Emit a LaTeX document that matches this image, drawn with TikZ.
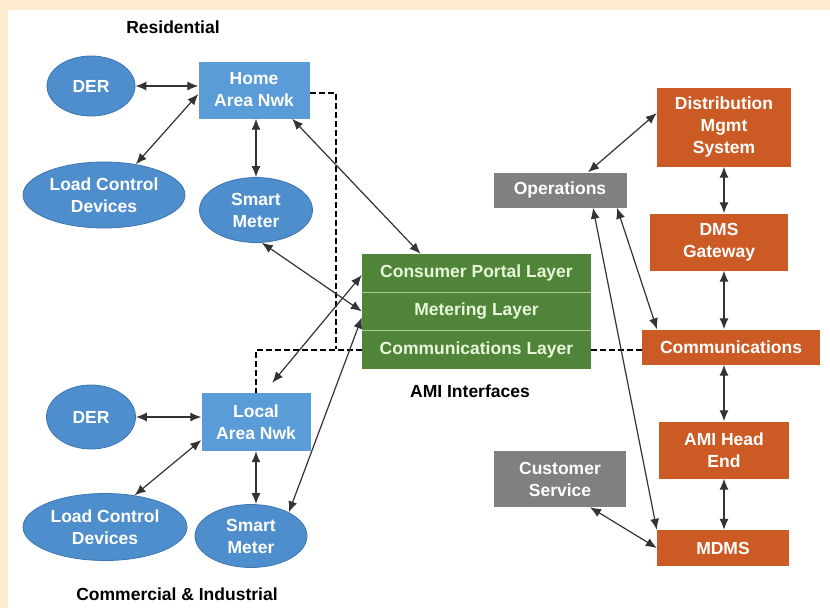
\documentclass[tikz,border=0pt]{standalone}
\usepackage{fontspec}
\setmainfont{Liberation Sans}
\usetikzlibrary{arrows.meta,shapes.geometric,positioning}
\definecolor{paper}{RGB}{253,236,208}
\definecolor{amiblue}{RGB}{78,142,204}
\definecolor{amibluedark}{RGB}{60,118,178}
\definecolor{amibox}{RGB}{90,156,216}
\definecolor{amigreen}{RGB}{80,132,56}
\definecolor{amigreenlight}{RGB}{170,205,150}
\definecolor{amitext}{RGB}{232,246,218}
\definecolor{amiorange}{RGB}{204,90,36}
\definecolor{amigrey}{RGB}{128,128,128}
\tikzset{>={Latex[width=9pt,length=11pt]}}
\tikzset{every node/.style={font=\fontsize{17.5}{22}\selectfont\bfseries, align=center}}
\tikzset{blob/.style={shape=ellipse, draw=amibluedark, line width=0.8pt,
    fill=amiblue, text=white, inner sep=0pt}}
\tikzset{netbox/.style={shape=rectangle, fill=amibox, text=white, inner sep=0pt}}
\tikzset{layer/.style={shape=rectangle, fill=amigreen, text=amitext, inner sep=0pt,
    minimum width=229pt, minimum height=38pt}}
\tikzset{utilbox/.style={shape=rectangle, fill=amiorange, text=white, inner sep=0pt}}
\tikzset{opsbox/.style={shape=rectangle, fill=amigrey, text=white, inner sep=0pt}}
\tikzset{link/.style={<->, draw=black!80, line width=1.2pt}}
\tikzset{bus/.style={draw=black, line width=1.8pt, dash pattern=on 6pt off 3pt}}

\begin{document}
\begin{tikzpicture}[x=1pt, y=-1pt]
    \useasboundingbox (0,0) rectangle (830,608);
    \fill[paper] (0,0) rectangle (830,608);
    \fill[white] (8,10) rectangle (830,608);
    % residential side
    \node (res) at (173,27) {Residential};
    \node[blob, minimum width=88pt, minimum height=60pt] (der1) at (91,86) {DER};
    \node[netbox, minimum width=111pt, minimum height=57pt] (han) at (254,90) {Home\\Area Nwk};
    \node[blob, minimum width=162pt, minimum height=66pt] (lcd1) at (104,195) {Load Control\\Devices};
    \node[blob, minimum width=113pt, minimum height=65pt] (sm1) at (256,210) {Smart\\Meter};
    % commercial side
    \node[blob, minimum width=89pt, minimum height=64pt] (der2) at (91,417) {DER};
    \node[netbox, minimum width=109pt, minimum height=58pt] (lan) at (256,422) {Local\\Area Nwk};
    \node[blob, minimum width=164pt, minimum height=67pt] (lcd2) at (105,527) {Load Control\\Devices};
    \node[blob, minimum width=112pt, minimum height=63pt] (sm2) at (251,536) {Smart\\Meter};
    \node (ci) at (177,594) {Commercial \& Industrial};
    % AMI interfaces
    \node[layer] (cpl) at (476.5,273) {Consumer Portal Layer};
    \node[layer, below=0pt of cpl] (ml) {Metering Layer};
    \node[layer, below=0pt of ml] (cl) {Communications Layer};
    \draw[amigreenlight, line width=1.4pt] (ml.north west) -- (ml.north east);
    \draw[amigreenlight, line width=1.4pt] (cl.north west) -- (cl.north east);
    \node (amilab) at (470,391) {AMI Interfaces};
    % utility side
    \node[opsbox, minimum width=133pt, minimum height=35pt] (ops) at (560,190) {Operations};
    \node[utilbox, minimum width=134pt, minimum height=79pt] (dms) at (724,127) {Distribution\\Mgmt\\System};
    \node[utilbox, minimum width=138pt, minimum height=57pt] (gw) at (719,242) {DMS\\Gateway};
    \node[utilbox, minimum width=178pt, minimum height=35pt] (comm) at (731,347) {Communications};
    \node[utilbox, minimum width=130pt, minimum height=57pt] (ahe) at (724,450) {AMI Head\\End};
    \node[opsbox, minimum width=132pt, minimum height=56pt] (cs) at (560,479) {Customer\\Service};
    \node[utilbox, minimum width=132pt, minimum height=36pt] (mdms) at (723,548) {MDMS};
    \coordinate (tap) at (336,349);

    \draw [bus] ([yshift=-3pt]han.east) -| (tap);
    \draw [bus] (cl.west) -| (lan.north);
    \draw [bus] (cl.east) -- (cl.east -| comm.west);

    \draw [link] (der1.east) to (der1.east -| han.west);
    \draw [link] (lcd1.44) to ([yshift=-4pt]han.west);
    \draw [link] (sm1.north |- han.south) to (sm1.north);
    \draw [link] (han.-37) to ([xshift=-56pt]cpl.north);
    \draw [link] (sm1.-80) to (ml.west);
    \draw [link, shorten >=13pt] ([yshift=-2pt]cpl.west) to ([xshift=8pt]lan.north);
    \draw [link] (sm2.32) to ([yshift=-6pt]ml.west);
    \draw [link] (der2.east) to (der2.east -| lan.west);
    \draw [link] (lcd2.47) to ([yshift=-18pt]lan.west);
    \draw [link] (lan.south) to (lan.south |- sm2.north);

    \draw [link] ([xshift=28pt]ops.north) to ([yshift=14pt]dms.west);
    \draw [link] (dms.south) to (dms.south |- gw.north);
    \draw [link] (dms.south |- gw.south) to (dms.south |- comm.north);
    \draw [link] ([xshift=57pt]ops.south) to ([xshift=-74pt]comm.north);
    \draw [link] ([xshift=33pt]ops.south) to (mdms.north west);
    \draw [link] (ahe.north |- comm.south) to (ahe.north);
    \draw [link] (ahe.south) to (ahe.south |- mdms.north);
    \draw [link] ([xshift=30pt]cs.south) to (mdms.west);
\end{tikzpicture}
\end{document}
